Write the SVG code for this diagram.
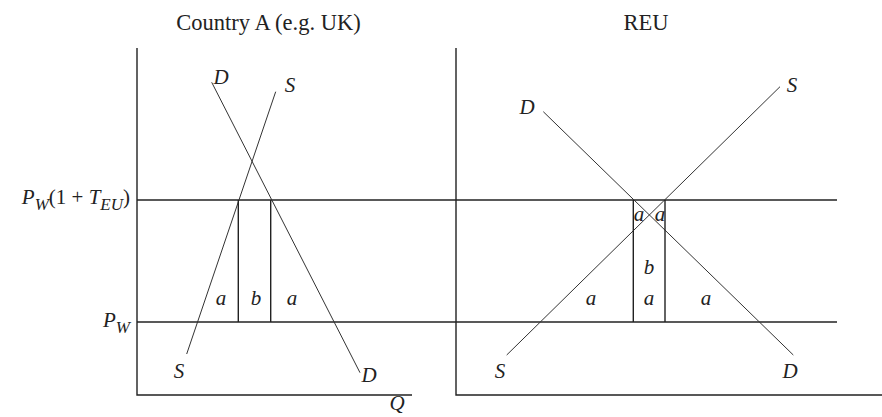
<svg xmlns="http://www.w3.org/2000/svg" width="882" height="417" viewBox="0 0 882 417">
<style>
.ax{stroke:#222;stroke-width:1.4;fill:none}
.ln{stroke:#333;stroke-width:1;fill:none}
.t{font-family:"Liberation Serif",serif;font-size:22.5px;fill:#222}
.i{font-family:"Liberation Serif",serif;font-size:21px;font-style:italic;fill:#222}
.sub{font-size:17px}
</style>
<rect width="882" height="417" fill="#fff"/>
<g id="titles">
<text class="t" x="268.5" y="30" text-anchor="middle">Country A (e.g. UK)</text>
<text class="t" x="646" y="30" text-anchor="middle">REU</text>
</g>
<g id="axes">
<polyline class="ax" points="137,48 137,395 412,395"/>
<polyline class="ax" points="456,48 456,395 882,395"/>
</g>
<g id="price-lines">
<line class="ax" x1="137" y1="200" x2="837" y2="200"/>
<line class="ax" x1="137" y1="322" x2="837" y2="322"/>
<text class="i" x="130" y="204" text-anchor="end" font-size="24">P<tspan class="sub" dy="6">W</tspan><tspan font-style="normal" dy="-6">(1 + </tspan>T<tspan class="sub" dy="6">EU</tspan><tspan font-style="normal" dy="-6">)</tspan></text>
<text class="i" x="130" y="327" text-anchor="end" font-size="24">P<tspan class="sub" dy="6">W</tspan></text>
</g>
<g id="connectors">
<line class="ln" x1="211.7" y1="82.3" x2="360" y2="372.7"/>
<line class="ln" x1="275.7" y1="91.7" x2="186.7" y2="354"/>
<line class="ax" x1="238.3" y1="200" x2="238.3" y2="322"/>
<line class="ax" x1="270.7" y1="200" x2="270.7" y2="322"/>
<line class="ln" x1="543.3" y1="111.7" x2="793.3" y2="355"/>
<line class="ln" x1="506.7" y1="355" x2="780" y2="86.7"/>
<line class="ax" x1="633.3" y1="200" x2="633.3" y2="322"/>
<line class="ax" x1="665" y1="200" x2="665" y2="322"/>
</g>
<g id="left-labels">
<text class="i" x="221" y="84" text-anchor="middle">D</text>
<text class="i" x="290" y="92" text-anchor="middle">S</text>
<text class="i" x="179" y="378" text-anchor="middle">S</text>
<text class="i" x="369" y="382" text-anchor="middle">D</text>
<text class="i" x="397" y="410" text-anchor="middle">Q</text>
<text class="i" x="221" y="305" text-anchor="middle">a</text>
<text class="i" x="256" y="305" text-anchor="middle">b</text>
<text class="i" x="292" y="305" text-anchor="middle">a</text>
</g>
<g id="right-labels">
<text class="i" x="527" y="114" text-anchor="middle">D</text>
<text class="i" x="792" y="92" text-anchor="middle">S</text>
<text class="i" x="500" y="378" text-anchor="middle">S</text>
<text class="i" x="790" y="378" text-anchor="middle">D</text>
<text class="i" x="591" y="305" text-anchor="middle">a</text>
<text class="i" x="649" y="305" text-anchor="middle">a</text>
<text class="i" x="706" y="305" text-anchor="middle">a</text>
<text class="i" x="649" y="274" text-anchor="middle">b</text>
<text class="i" x="639" y="221" text-anchor="middle">a</text>
<text class="i" x="660" y="221" text-anchor="middle">a</text>
</g>
</svg>
